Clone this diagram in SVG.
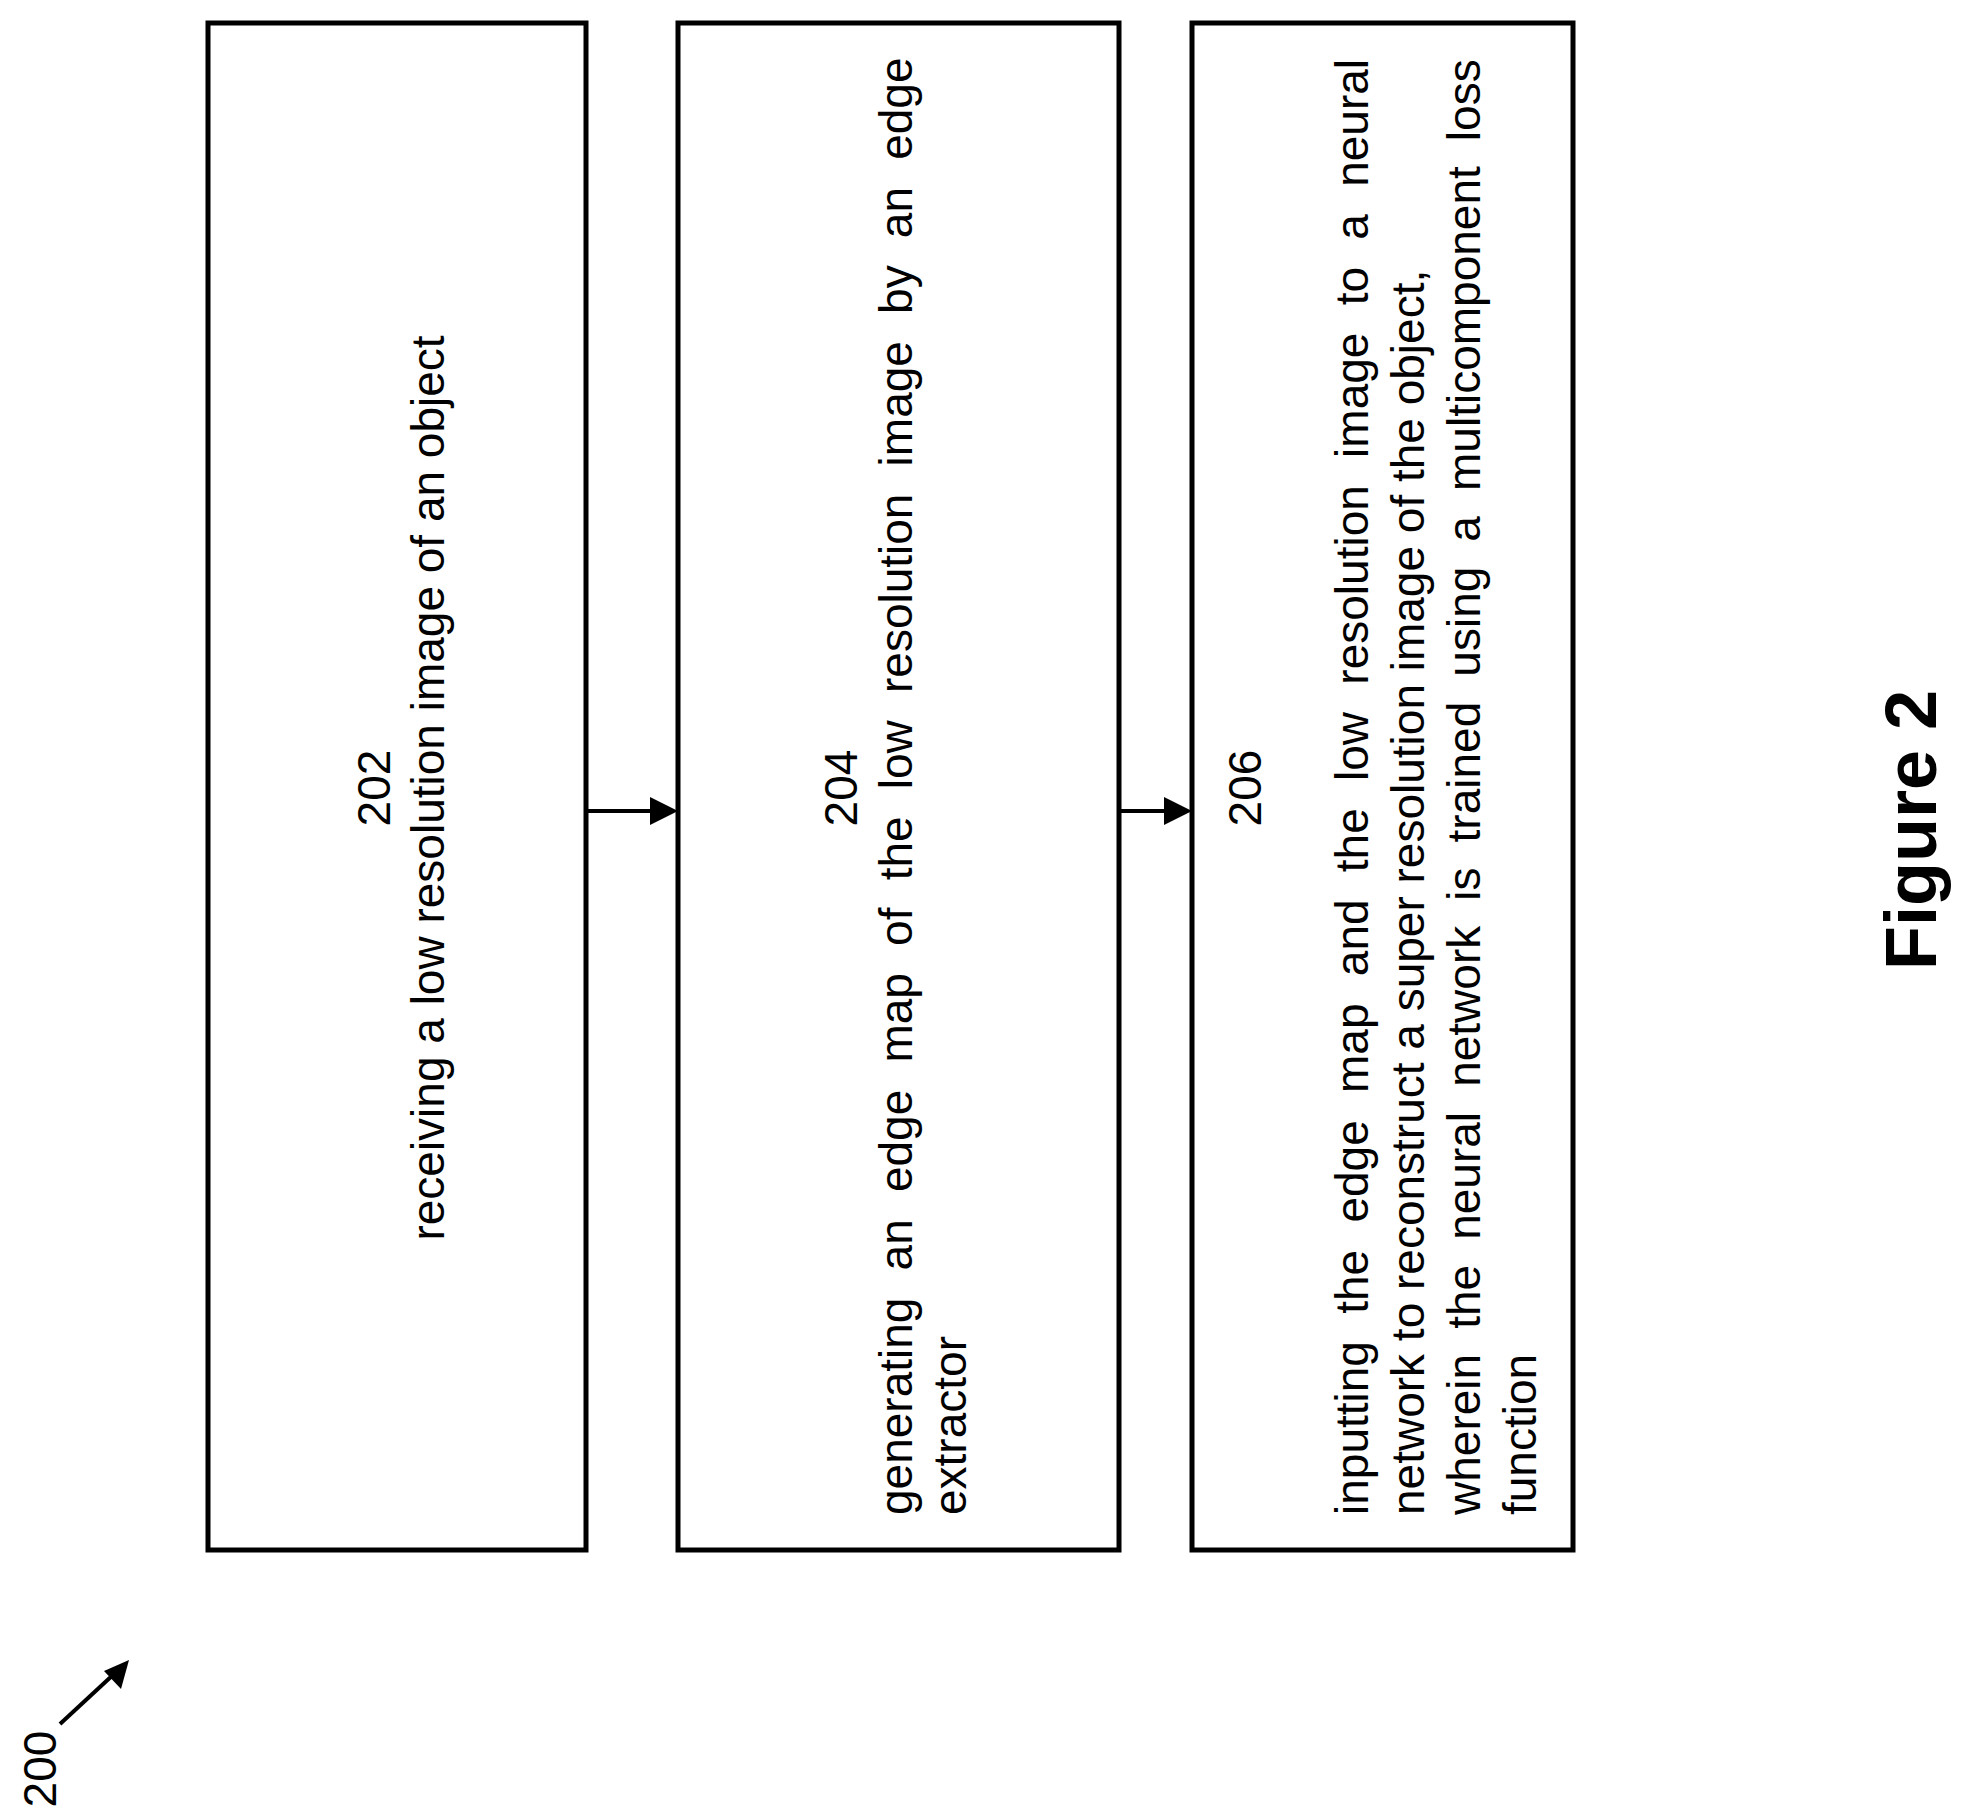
<svg xmlns="http://www.w3.org/2000/svg" width="1971" height="1818" viewBox="0 0 1971 1818">
<style>
.box{fill:#fff;stroke:#000;stroke-width:5}
.t{font-family:"Liberation Sans",Arial,sans-serif;font-size:46px;fill:#000}
.c{text-anchor:middle}
.fig{font-family:"Liberation Sans",Arial,sans-serif;font-size:72px;font-weight:bold;fill:#000;text-anchor:middle}
.ln{stroke:#000;stroke-width:4;fill:none}
</style>
<rect width="1971" height="1818" fill="#fff"/>
<g id="node202">
<rect class="box" x="208" y="23" width="378" height="1527"/>
<g transform="rotate(-90)">
<text class="t c" x="-788" y="390">202</text>
<text class="t c" x="-788" y="444">receiving a low resolution image of an object</text>
</g>
</g>
<g id="node204">
<rect class="box" x="678" y="23" width="441" height="1527"/>
<g transform="rotate(-90)">
<text class="t c" x="-788" y="857">204</text>
<text class="t" x="-1515" y="912" style="word-spacing:14.4px">generating an edge map of the low resolution image by an edge</text>
<text class="t" x="-1515" y="966">extractor</text>
</g>
</g>
<g id="node206">
<rect class="box" x="1192" y="23" width="381" height="1527"/>
<g transform="rotate(-90)">
<text class="t c" x="-788" y="1261">206</text>
<text class="t" x="-1515" y="1368" style="word-spacing:14.5px">inputting the edge map and the low resolution image to a neural</text>
<text class="t" x="-1515" y="1424">network to reconstruct a super resolution image of the object,</text>
<text class="t" x="-1515" y="1480" style="word-spacing:12.3px">wherein the neural network is trained using a multicomponent loss</text>
<text class="t" x="-1515" y="1536">function</text>
</g>
</g>
<g id="connectors">
<line class="ln" x1="588" y1="811" x2="660" y2="811"/>
<path d="M650,797 L678,811 L650,825 z" fill="#000"/>
<line class="ln" x1="1121" y1="811" x2="1174" y2="811"/>
<path d="M1164,797 L1192,811 L1164,825 z" fill="#000"/>
<line class="ln" x1="60" y1="1724" x2="114" y2="1674"/>
<path d="M129,1660 L121,1689 L104,1671 z" fill="#000"/>
</g>
<g id="label200" transform="rotate(-90)">
<text class="t c" x="-1769" y="56">200</text>
</g>
<g id="figlabel" transform="rotate(-90)">
<text class="fig" x="-830" y="1936">Figure 2</text>
</g>
</svg>
